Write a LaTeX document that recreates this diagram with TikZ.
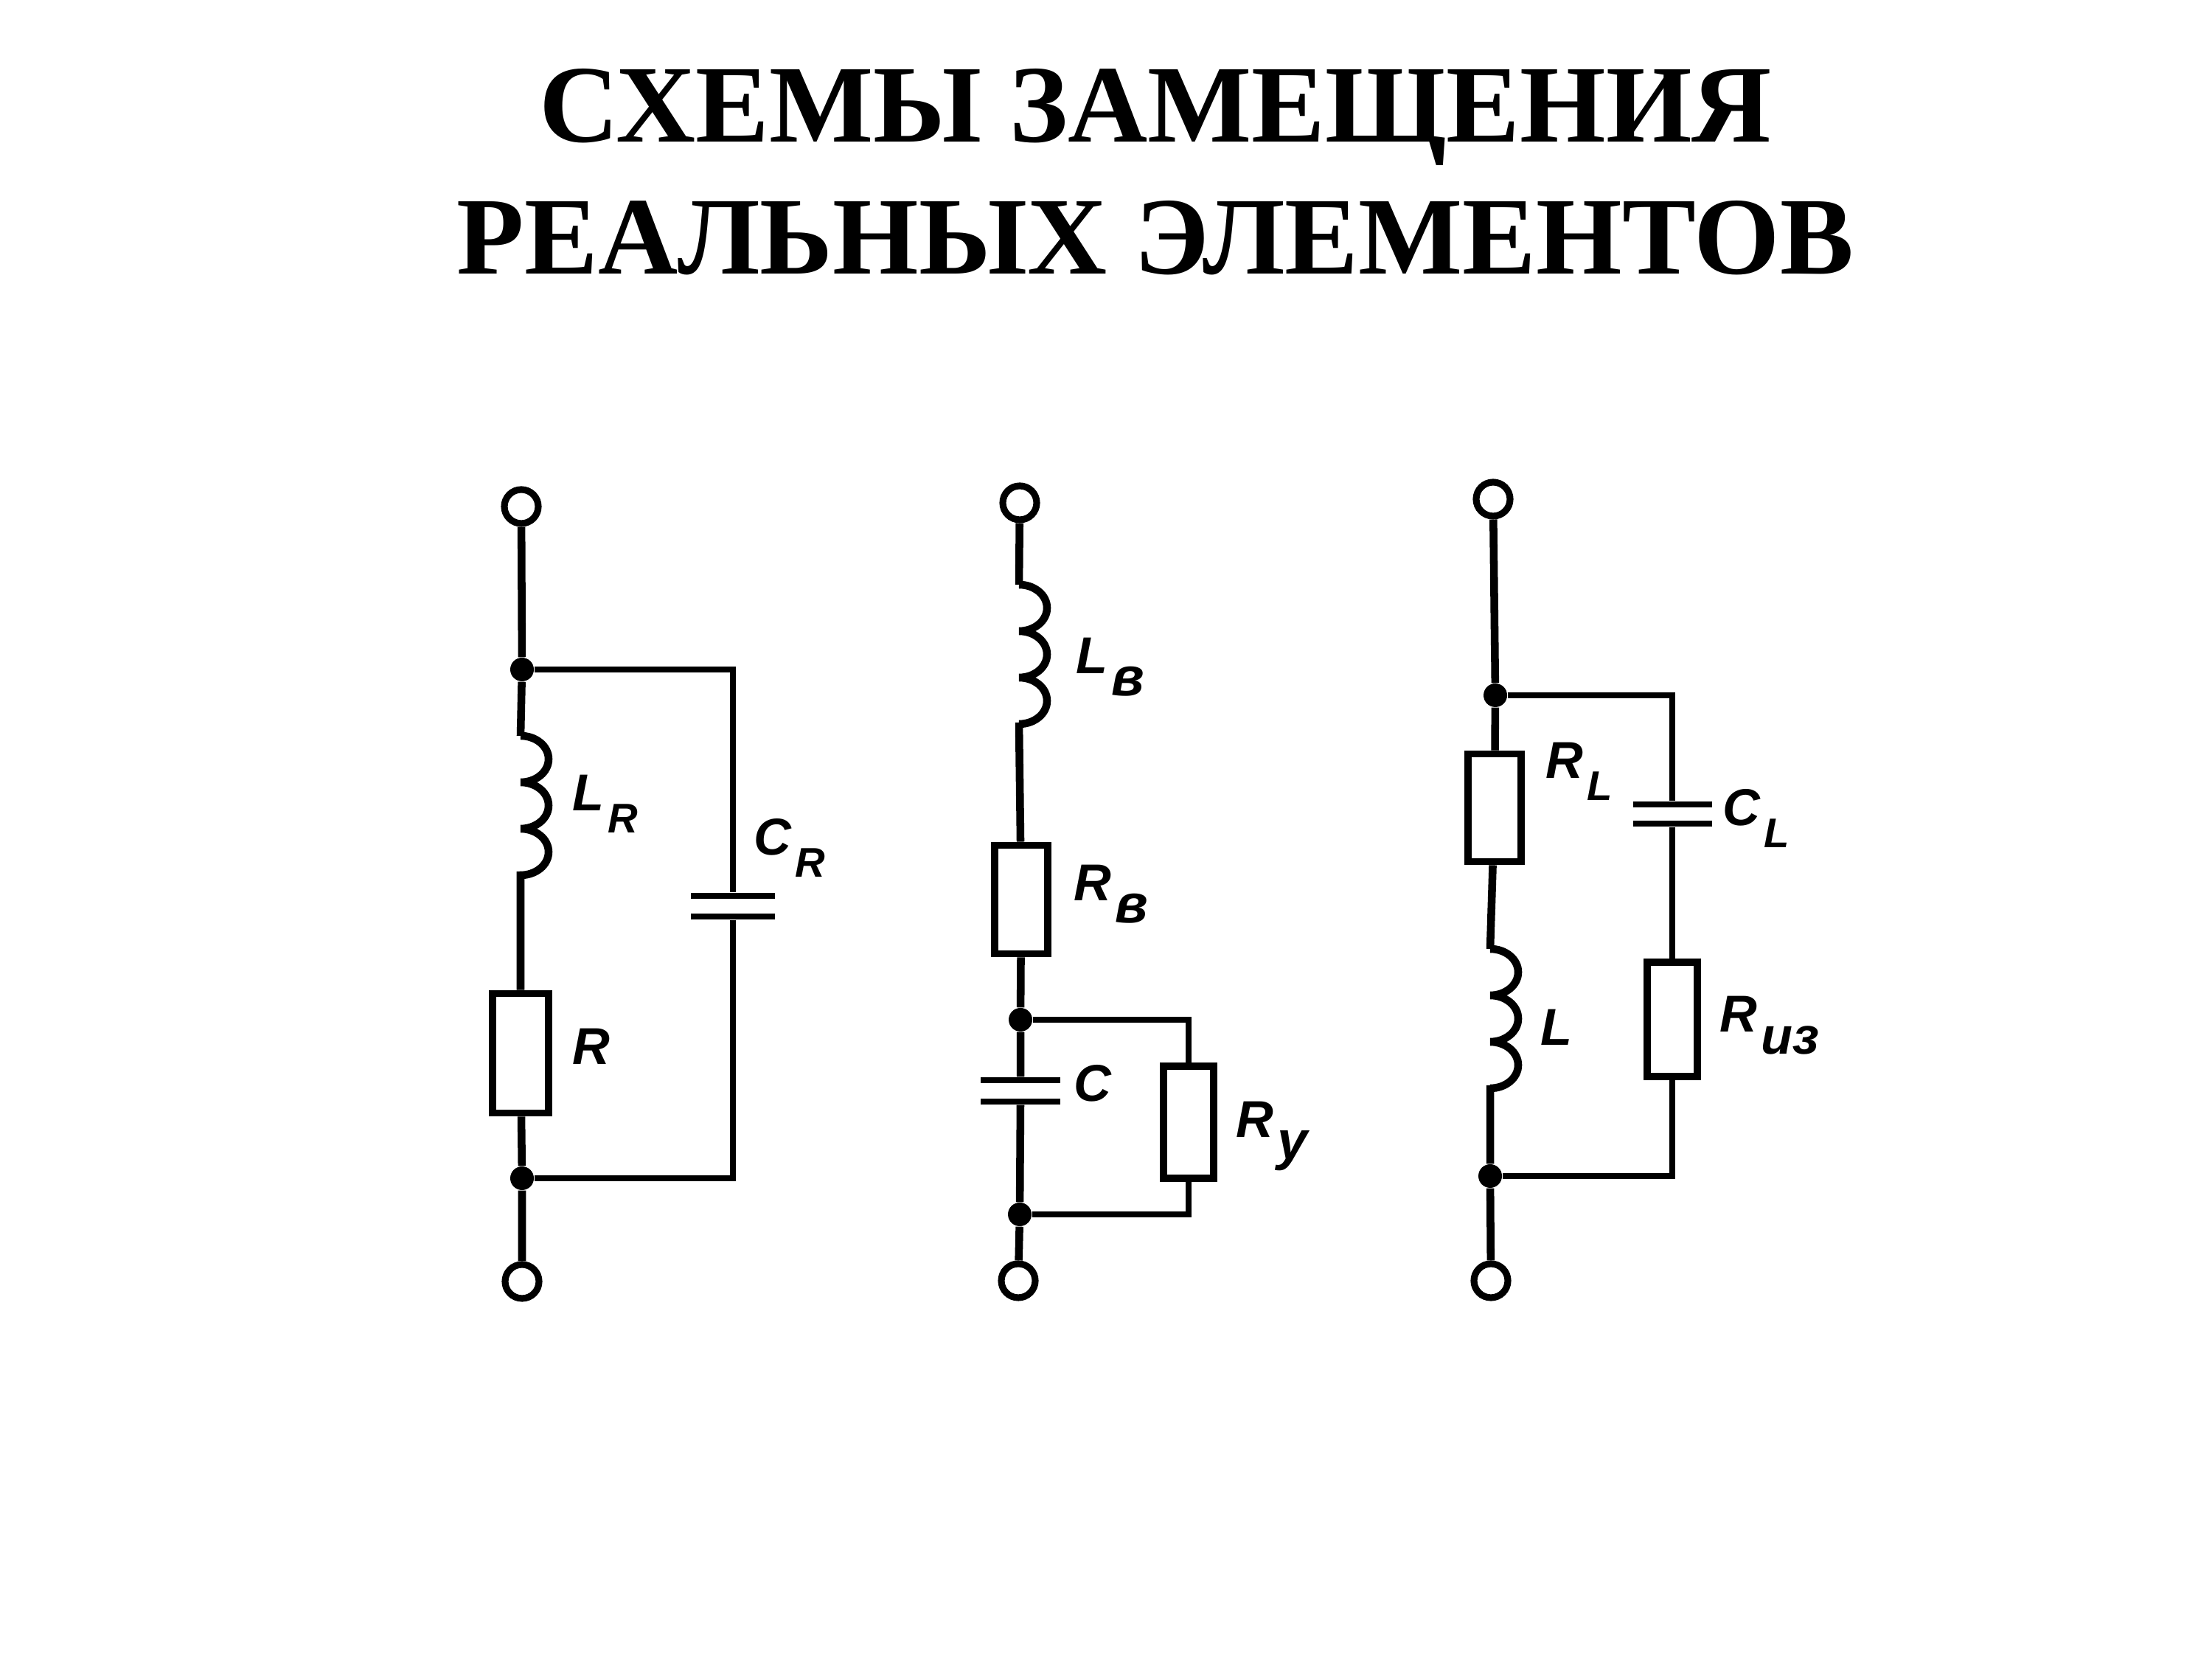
\documentclass[tikz,border=0pt]{standalone}
\usepackage{fontspec}
\setmainfont{Liberation Serif}
\newfontfamily\labelfont{Liberation Sans}
\newcommand{\subl}[2][16]{\kern1.5pt\raisebox{-8.5pt}{\fontsize{#1}{#1}\selectfont #2}}
\tikzset{
    wire/.style={line width=3pt},
    branch/.style={line width=2.2pt},
    term/.style={circle, draw, fill=white, line width=2.6pt, minimum size=0.46cm, inner sep=0pt},
    junc/.style={circle, fill=black, minimum size=0.32cm, inner sep=0pt},
    res/.style={rectangle, draw, fill=white, line width=2.8pt, inner sep=0pt},
    plate/.style={rectangle, fill=black, minimum height=0.08cm, inner sep=0pt},
    lab/.style={font=\labelfont\itshape\bfseries\fontsize{20}{20}\selectfont, anchor=base west, inner sep=0pt},
    coil/.style={to path={(\tikztostart)
        arc[start angle=90, end angle=-90, x radius=0.38, y radius=0.315]
        arc[start angle=90, end angle=-90, x radius=0.38, y radius=0.315]
        arc[start angle=90, end angle=-90, x radius=0.38, y radius=0.315]
        -- (\tikztotarget)}}
}
\begin{document}
\begin{tikzpicture}
    \useasboundingbox (0, 0) rectangle (30, 22.5);
    
    \node[font=\bfseries\fontsize{42.6}{51}\selectfont, align=center, inner sep=0pt, anchor=base] (title) at (15.67, 18.78) {СХЕМЫ ЗАМЕЩЕНИЯ\\РЕАЛЬНЫХ ЭЛЕМЕНТОВ};
    
    \node[term] (topA) at (7.07, 15.63) {};
    \node[junc] (junA) at (7.08, 13.42) {};
    \coordinate (coilAs) at (7.06, 12.52);
    \coordinate (coilAe) at (7.06, 10.58);
    \node[res, minimum width=0.76cm, minimum height=1.62cm] (resA) at (7.06, 8.215) {};
    \node[junc] (junAb) at (7.08, 6.52) {};
    \node[term] (botA) at (7.08, 5.12) {};
    \node[plate, minimum width=1.14cm] (capAa) at (9.94, 10.35) {};
    \node[plate, minimum width=1.14cm] (capAb) at (9.94, 10.07) {};
    
    \draw[wire] (topA) -- (junA) -- (coilAs);
    \draw[wire] (coilAs) to[coil] (coilAe) -- (resA);
    \draw[wire] (resA) -- (junAb) -- (botA);
    \draw[branch] (junA) -| (capAa);
    \draw[branch] (capAb) |- (junAb);
    
    \node[lab] (labLR) at (7.76, 11.50) {L\subl{R}};
    \node[lab] (labCR) at (10.22, 10.90) {C\subl{R}};
    \node[lab] (labR) at (7.76, 8.06) {R};
    
    \node[term] (topB) at (13.83, 15.68) {};
    \coordinate (coilBs) at (13.82, 14.57);
    \coordinate (coilBe) at (13.82, 12.70);
    \node[res, minimum width=0.72cm, minimum height=1.47cm] (resB) at (13.85, 10.30) {};
    \node[junc] (junB) at (13.84, 8.67) {};
    \node[plate, minimum width=1.08cm] (capBa) at (13.84, 7.85) {};
    \node[plate, minimum width=1.08cm] (capBb) at (13.84, 7.56) {};
    \node[junc] (junBb) at (13.83, 6.03) {};
    \node[term] (botB) at (13.81, 5.13) {};
    \node[res, minimum width=0.68cm, minimum height=1.52cm] (resBy) at (16.12, 7.28) {};
    
    \draw[wire] (topB) -- (coilBs);
    \draw[wire] (coilBs) to[coil] (coilBe) -- (resB);
    \draw[wire] (resB) -- (junB) -- (capBa);
    \draw[wire] (capBb) -- (junBb) -- (botB);
    \draw[branch] (junB) -| (resBy);
    \draw[branch] (resBy) |- (junBb);
    
    \node[lab] (labLv) at (14.59, 13.36) {L\subl[21]{в}};
    \node[lab] (labRv) at (14.56, 10.28) {R\subl[21]{в}};
    \node[lab] (labC) at (14.56, 7.56) {C};
    \node[lab] (labRu) at (16.76, 7.07) {R\subl[21]{у}};
    
    \node[term] (topC) at (20.25, 15.73) {};
    \node[junc] (junC) at (20.28, 13.07) {};
    \node[res, minimum width=0.72cm, minimum height=1.46cm] (resC) at (20.27, 11.545) {};
    \coordinate (coilCs) at (20.21, 9.63);
    \coordinate (coilCe) at (20.21, 7.78);
    \node[junc] (junCb) at (20.21, 6.55) {};
    \node[term] (botC) at (20.22, 5.13) {};
    \node[plate, minimum width=1.07cm] (capCa) at (22.68, 11.59) {};
    \node[plate, minimum width=1.07cm] (capCb) at (22.68, 11.33) {};
    \node[res, minimum width=0.68cm, minimum height=1.55cm] (resCi) at (22.68, 8.675) {};
    
    \draw[wire] (topC) -- (junC) -- (resC);
    \draw[wire] (resC) -- (coilCs);
    \draw[wire] (coilCs) to[coil] (coilCe) -- (junCb) -- (botC);
    \draw[branch] (junC) -| (capCa);
    \draw[branch] (capCb) -- (resCi);
    \draw[branch] (resCi) |- (junCb);
    
    \node[lab] (labRL) at (20.96, 11.94) {R\subl{L}};
    \node[lab] (labCL) at (23.36, 11.30) {C\subl{L}};
    \node[lab] (labL) at (20.89, 8.32) {L};
    \node[lab] (labRi) at (23.32, 8.50) {R\subl[20]{из}};
\end{tikzpicture}
\end{document}
